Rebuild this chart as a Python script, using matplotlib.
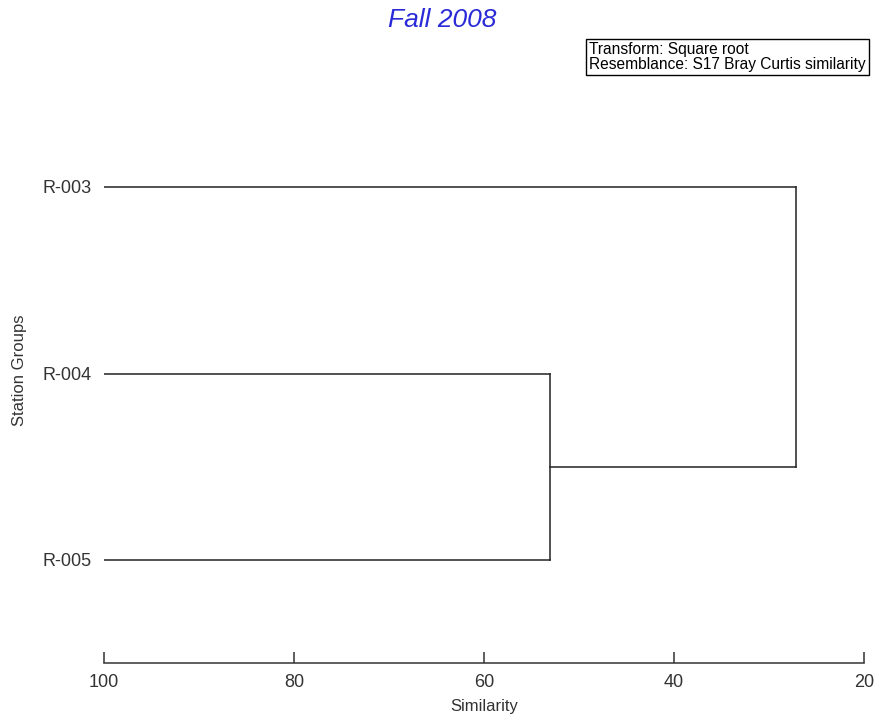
import matplotlib.pyplot as plt

plt.rcParams['font.family'] = ['Liberation Sans', 'DejaVu Sans']

# stations, and the similarity level where each pair of clusters joins
stations = ["R-003", "R-004", "R-005"]
join_45 = 53.1   # R-004 with R-005
join_all = 27.2  # R-003 with (R-004, R-005)
xticks = [100, 80, 60, 40, 20]

fig = plt.figure(figsize=(8.78, 7.19), dpi=100)
ax = fig.add_axes([104 / 878, 1 - 663 / 719, 760 / 878, (663 - 112) / 719])

# leaf positions: R-003 on top, R-005 at the bottom
ypos = {"R-003": 2, "R-004": 1, "R-005": 0}
lc = '#222222'
lw = 1.1

# R-004 / R-005 cluster
y4, y5 = ypos["R-004"], ypos["R-005"]
ax.plot([100, join_45], [y4, y4], c=lc, lw=lw)
ax.plot([100, join_45], [y5, y5], c=lc, lw=lw)
ax.plot([join_45, join_45], [y5, y4], c=lc, lw=lw)
ymid = (y4 + y5) / 2

# joining R-003 on to the rest
y3 = ypos["R-003"]
ax.plot([join_45, join_all], [ymid, ymid], c=lc, lw=lw)
ax.plot([100, join_all], [y3, y3], c=lc, lw=lw)
ax.plot([join_all, join_all], [ymid, y3], c=lc, lw=lw)

ax.set_xlim(100, 20)
ax.set_ylim((560 - 663) / 186.5, 2 + (187 - 112) / 186.5)
ax.set_xticks(xticks)
ax.set_yticks([ypos[s] for s in stations])
ax.set_yticklabels(stations)

for side in ['top', 'right', 'left']:
    ax.spines[side].set_visible(False)
ax.spines['bottom'].set_color('#333333')
ax.spines['bottom'].set_linewidth(1.1)
ax.tick_params(axis='x', direction='in', length=8, width=1.1, color='#333333',
               labelsize=13, labelcolor='#333333', pad=8)
ax.tick_params(axis='y', length=0, labelsize=13, labelcolor='#333333', pad=9)

ax.set_xlabel("Similarity", fontsize=12, color='#333333', labelpad=6)
fig.text(20 / 878, 1 - 370 / 719, "Station Groups", rotation=90, fontsize=12,
         color='#333333', ha='center', va='center')

fig.text(442 / 878, 1 - 20 / 719, "Fall 2008", fontsize=19, style='italic',
         color='#2a2ad8', ha='center', va='center')

fig.text(589 / 878, 1 - 57 / 719,
         "Transform: Square root\nResemblance: S17 Bray Curtis similarity",
         fontsize=11.2, color='black', ha='left', va='center', linespacing=1.0,
         bbox=dict(boxstyle='square,pad=0.2', fc='white', ec='black', lw=1))

fig.savefig("out.png", dpi=100)
